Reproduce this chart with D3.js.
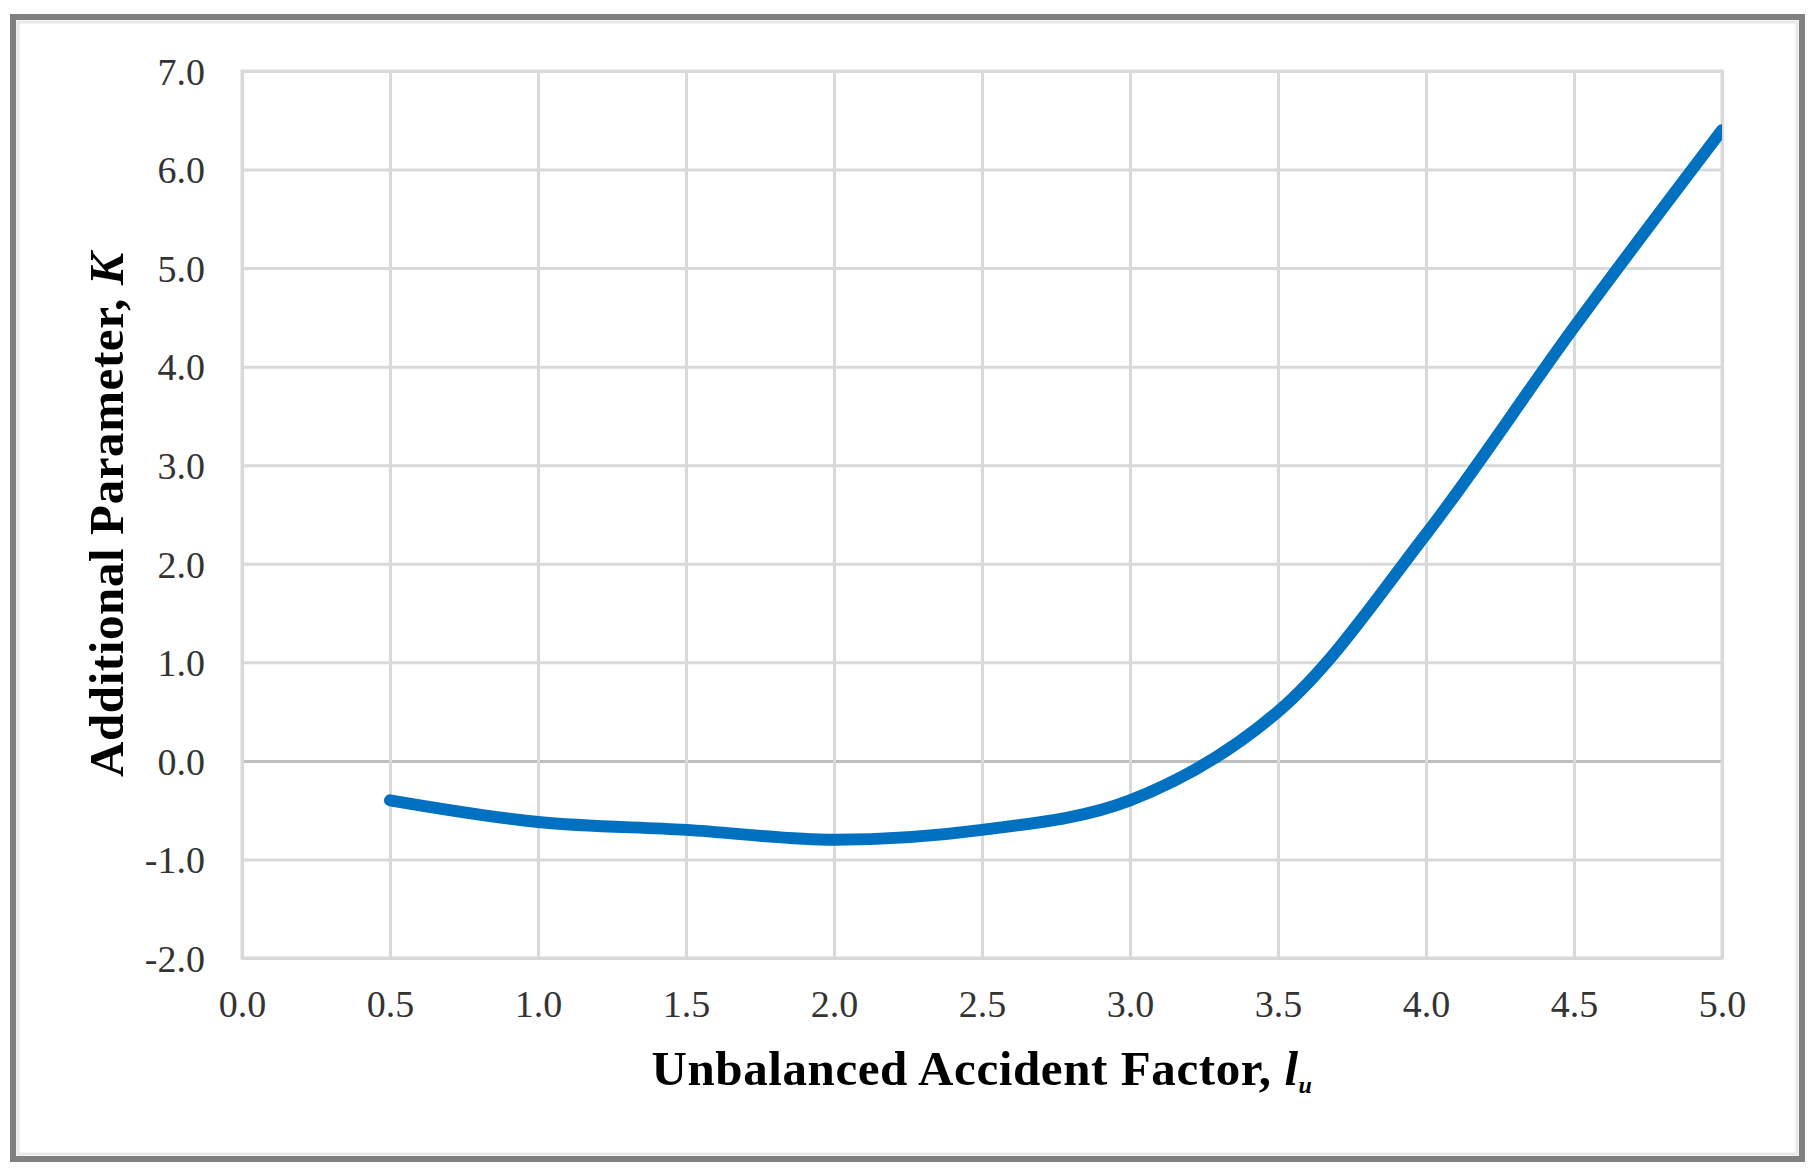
<!DOCTYPE html>
<html>
<head>
<meta charset="utf-8">
<script src="https://cdn.jsdelivr.net/npm/d3@7"></script>
<style>
  body { margin: 0; background: #fff; }
  svg { display: block; }
  .tick text { font-family: "Liberation Serif", "Times New Roman", serif; font-size: 38px; fill: #333; }
  .axis-title { font-family: "Liberation Serif", "Times New Roman", serif; font-weight: bold; font-size: 49px; fill: #000; }
</style>
</head>
<body>
<div id="chart"></div>
<script>
// data
var factor = [0.5, 1.0, 1.5, 2.0, 2.5, 3.0, 3.5, 4.0, 4.5, 5.0];
var param = [-0.4, -0.62, -0.7, -0.8, -0.7, -0.4, 0.5, 2.3, 4.4, 6.4];
var xTicks = [0, 0.5, 1, 1.5, 2, 2.5, 3, 3.5, 4, 4.5, 5];
var yTicks = [-2, -1, 0, 1, 2, 3, 4, 5, 6, 7];

var width = 1815,
    height = 1171;

var plot = { left: 242, right: 1722, top: 71, bottom: 958 };

// plain hyphen for negatives, like the original
var fmt = function(d) { return d.toFixed(1); };

var svg = d3.select("#chart").append("svg")
    .attr("width", width)
    .attr("height", height);

// frame
svg.append("rect")
    .attr("x", 13).attr("y", 17)
    .attr("width", 1789).attr("height", 1142)
    .attr("fill", "#fff")
    .attr("stroke", "#808080")
    .attr("stroke-width", 6);

svg.append("rect")
    .attr("x", 18).attr("y", 22)
    .attr("width", 1779).attr("height", 1132)
    .attr("fill", "none")
    .attr("stroke", "#e8e8e8")
    .attr("stroke-width", 3);

var x = d3.scaleLinear().domain([0, 5]).range([plot.left, plot.right]);
var y = d3.scaleLinear().domain([-2, 7]).range([plot.bottom, plot.top]);

// gridlines + labels
var yAxis = svg.append("g")
    .attr("transform", "translate(" + plot.left + ",0)")
    .call(d3.axisLeft(y)
        .tickValues(yTicks)
        .tickFormat(fmt)
        .tickSize(-(plot.right - plot.left))
        .tickPadding(37));

var xAxis = svg.append("g")
    .attr("transform", "translate(0," + plot.bottom + ")")
    .call(d3.axisBottom(x)
        .tickValues(xTicks)
        .tickFormat(fmt)
        .tickSize(-(plot.bottom - plot.top))
        .tickPadding(32));

yAxis.select(".domain").remove();
xAxis.select(".domain").remove();

svg.selectAll(".tick line")
    .attr("stroke", "#d9d9d9")
    .attr("stroke-width", 3);

yAxis.selectAll(".tick line")
    .filter(function(d) { return d === 0; })
    .attr("stroke", "#bfbfbf");

yAxis.selectAll(".tick text").attr("dy", "0.35em");
xAxis.selectAll(".tick text").attr("dy", "0.71em");

// plot border
svg.append("rect")
    .attr("x", plot.left).attr("y", plot.top)
    .attr("width", plot.right - plot.left)
    .attr("height", plot.bottom - plot.top)
    .attr("fill", "none")
    .attr("stroke", "#d9d9d9")
    .attr("stroke-width", 3);

svg.append("clipPath").attr("id", "clip")
    .append("rect")
    .attr("x", plot.left - 20).attr("y", plot.top)
    .attr("width", plot.right - plot.left + 20)
    .attr("height", plot.bottom - plot.top);

var line = d3.line()
    .x(function(d, i) { return x(factor[i]); })
    .y(function(d) { return y(d); })
    .curve(d3.curveCatmullRom.alpha(0.5));

svg.append("path")
    .datum(param)
    .attr("clip-path", "url(#clip)")
    .attr("d", line)
    .attr("fill", "none")
    .attr("stroke", "#0070c0")
    .attr("stroke-width", 12)
    .attr("stroke-linecap", "round")
    .attr("stroke-linejoin", "round");

// axis titles
var xt = svg.append("text")
    .attr("class", "axis-title")
    .attr("x", (plot.left + plot.right) / 2)
    .attr("y", 1085)
    .attr("text-anchor", "middle")
    .attr("letter-spacing", "0.6px");
xt.append("tspan").text("Unbalanced Accident Factor, ");
xt.append("tspan").attr("font-style", "italic").text("l");
xt.append("tspan").attr("font-style", "italic").attr("font-size", "24px").attr("dy", 8).text("u");

var yt = svg.append("text")
    .attr("class", "axis-title")
    .attr("transform", "translate(123," + (plot.top + plot.bottom) / 2 + ") rotate(-90)")
    .attr("text-anchor", "middle")
    .attr("letter-spacing", "0.6px");
yt.append("tspan").text("Additional Parameter, ");
yt.append("tspan").attr("font-style", "italic").text("K");
</script>
</body>
</html>
